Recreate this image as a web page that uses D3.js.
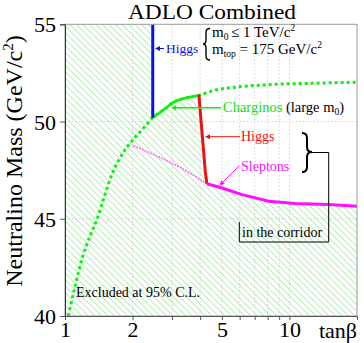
<!DOCTYPE html>
<html><head><meta charset="utf-8">
<script src="https://cdn.jsdelivr.net/npm/d3@7"></script>
<style>
html,body{margin:0;padding:0;background:#fff;}
svg{display:block;font-family:"Liberation Serif","Times New Roman",serif;}
</style></head>
<body>
<svg id="c" width="364" height="343"></svg>
<script>
// ---- data ----
const xTickValues = [1,2,3,4,5,6,7,8,9,10];
const xLabelValues = [1,2,5,10];
const yTickValues = [40,45,50,55];
const gridX = [2,3,4,5,6,7,8,9,10];
const gridY = [45,50];

const higgsBlueTb = [2.46,2.46];
const higgsBlueM  = [55,50.2];

const charginoSolidTb = [2.46,2.75,3.04,3.32,3.7,3.98];
const charginoSolidM  = [50.2,50.6,50.99,51.16,51.28,51.36];

const charginoDotTb = [1.034,1.203,1.389,1.636,1.758,1.889,2.051,2.234,2.46,2.75,3.04,3.32,3.98,4.68,5.5,6.59,8.0,9.27,11.0,13.05,16.0,20];
const charginoDotM  = [40,43.11,44.99,47.41,48.13,48.69,49.18,49.65,50.2,50.6,50.99,51.16,51.36,51.62,51.74,51.83,51.89,51.93,51.95,51.97,52.0,52.02];

const higgsRedTb = [3.95,4.08,4.22,4.29];
const higgsRedM  = [51.38,49.4,47.41,46.8];

const sleptonTb = [4.29,5.01,6.15,8.09,10.6,14.96,20];
const sleptonM  = [46.8,46.58,46.24,45.9,45.78,45.73,45.64];

const sleptonDotTb = [2.02,2.6,3.32,4.29];
const sleptonDotM  = [48.76,48.2,47.6,46.8];

// ---- layout ----
const svg = d3.select("#c");
const X0=65, X1=357, Y0=24.3, Y1=316;
const x = d3.scaleLog().domain([1,20]).range([X0,X1]);
const y = d3.scaleLinear().domain([40,55]).range([Y1,Y0]);
const serif = '"Liberation Serif","Times New Roman",serif';

const defs = svg.append("defs");
const pat = defs.append("pattern").attr("id","hatch").attr("patternUnits","userSpaceOnUse")
  .attr("width",6.5).attr("height",6.5);
pat.append("path").attr("d","M-1,-1 L7.5,7.5 M-1,5.5 L1,7.5 M5.5,-1 L7.5,1")
  .attr("stroke","#8fe38f").attr("stroke-width",0.9).attr("fill","none");
defs.append("clipPath").attr("id","plotclip").append("rect")
  .attr("x",X0).attr("y",Y0).attr("width",X1-X0).attr("height",Y1-Y0);

const zip = (a,b)=>a.map((v,i)=>[v,b[i]]);
const line = d3.line().x(d=>x(d[0])).y(d=>y(d[1]));
const smooth = d3.line().x(d=>x(d[0])).y(d=>y(d[1])).curve(d3.curveMonotoneX);

// hatched excluded region
const region = [[1,55],[higgsBlueTb[0],55]]
  .concat(zip(charginoSolidTb,charginoSolidM))
  .concat(zip(higgsRedTb,higgsRedM).slice(1))
  .concat(zip(sleptonTb,sleptonM).slice(1))
  .concat([[20,40],[1,40]]);
const g = svg.append("g").attr("clip-path","url(#plotclip)");
g.append("path").attr("d",line(region)+"Z").attr("fill","url(#hatch)");

// grid
g.selectAll(".gx").data(gridX).join("line")
  .attr("x1",d=>x(d)).attr("x2",d=>x(d)).attr("y1",Y0).attr("y2",Y1)
  .attr("stroke","#c8c8c8").attr("stroke-width",0.8).attr("stroke-dasharray","1.5,2");
g.selectAll(".gy").data(gridY).join("line")
  .attr("x1",X0).attr("x2",X1).attr("y1",d=>y(d)).attr("y2",d=>y(d))
  .attr("stroke","#c8c8c8").attr("stroke-width",0.8).attr("stroke-dasharray","1.5,2");

// curves
g.append("path").attr("d",line(zip(sleptonDotTb,sleptonDotM)))
  .attr("fill","none").attr("stroke","#ff66ff").attr("stroke-width",1.6).attr("stroke-dasharray","2,1");
g.append("path").attr("d",smooth(zip(charginoDotTb,charginoDotM)))
  .attr("fill","none").attr("stroke","#11ee11").attr("stroke-width",3).attr("stroke-dasharray","3,3");
g.append("path").attr("d",smooth(zip(charginoSolidTb,charginoSolidM)))
  .attr("fill","none").attr("stroke","#11ee11").attr("stroke-width",2.6);
g.append("path").attr("d",line(zip(higgsBlueTb,higgsBlueM)))
  .attr("fill","none").attr("stroke","#0a14e6").attr("stroke-width",3);
g.append("path").attr("d",line(zip(higgsRedTb,higgsRedM)))
  .attr("fill","none").attr("stroke","#ee1111").attr("stroke-width",3);
g.append("path").attr("d",line(zip(sleptonTb,sleptonM)))
  .attr("fill","none").attr("stroke","#ff11ff").attr("stroke-width",3);

// frame
svg.append("rect").attr("x",X0).attr("y",Y0).attr("width",X1-X0).attr("height",Y1-Y0)
  .attr("fill","none").attr("stroke","#9a9a9a").attr("stroke-width",1);

// axes
const xAxis = d3.axisBottom(x).tickValues(xTickValues).tickSize(4)
  .tickFormat(d=>xLabelValues.includes(d)?String(d):"");
const ax = svg.append("g").attr("transform",`translate(0,${Y1})`).call(xAxis);
ax.select(".domain").attr("stroke","#555");
ax.selectAll(".tick line").attr("stroke","#555");
ax.selectAll("text").attr("font-family",serif).attr("font-size",22).attr("fill","#000").attr("dy","0.72em").attr("y",5);

const yAxis = d3.axisLeft(y).tickValues(yTickValues).tickSize(5).tickFormat(d3.format("d"));
const ay = svg.append("g").attr("transform",`translate(${X0},0)`).call(yAxis);
ay.select(".domain").attr("stroke","#333");
ay.selectAll(".tick line").attr("stroke","#555");
ay.selectAll("text").attr("font-family",serif).attr("font-size",22).attr("fill","#000").attr("x",-9).attr("dy","0.34em");

// axis titles
svg.append("text").attr("x",357).attr("y",338).attr("text-anchor","end")
  .attr("font-size",22).text("tan\u03B2");
const yt = svg.append("text").attr("transform","translate(21.5,161) rotate(-90)")
  .attr("text-anchor","middle").attr("font-size",24);
yt.append("tspan").text("Neutralino Mass (GeV/c");
yt.append("tspan").attr("font-size",15).attr("dy",-9).text("2");
yt.append("tspan").attr("dy",9).text(")");

// title
svg.append("text").attr("x",212).attr("y",18.8).attr("text-anchor","middle")
  .attr("font-size",21).attr("textLength",168).attr("lengthAdjust","spacingAndGlyphs").text("ADLO Combined");

// annotations
function arrowHead(x0,y0,ang,col){ // ang: direction of the tip
  const L=5,W=2.5, c=Math.cos(ang), s=Math.sin(ang);
  const bx=x0-L*c, by=y0-L*s;
  svg.append("path").attr("d",`M${x0},${y0} L${bx- W*s},${by+W*c} L${bx+W*s},${by-W*c} Z`).attr("fill",col);
}
// blue higgs
svg.append("line").attr("x1",156).attr("x2",164).attr("y1",48.5).attr("y2",48.5).attr("stroke","#0a14e6").attr("stroke-width",1);
arrowHead(155,48.5,Math.PI,"#0a14e6");
svg.append("text").attr("x",166).attr("y",52.5).attr("font-size",13.5).attr("fill","#0a14e6").text("Higgs");

// brace and conditions
svg.append("path").attr("d","M210,28.5 Q206,28.5 206,32.5 L206,40 Q206,44 203,44 Q206,44 206,48 L206,56 Q206,60 210,60")
  .attr("fill","none").attr("stroke","#000").attr("stroke-width",1.4);
const l1 = svg.append("text").attr("x",212).attr("y",36.5).attr("font-size",15);
l1.append("tspan").text("m");
l1.append("tspan").attr("font-size",9.5).attr("dy",3).text("0");
l1.append("tspan").attr("x",231).attr("dy",-3).text("\u2264 1 TeV/c");
l1.append("tspan").attr("font-size",9.5).attr("dy",-6).text("2");
const l2 = svg.append("text").attr("x",212).attr("y",53.5).attr("font-size",15);
l2.append("tspan").text("m");
l2.append("tspan").attr("font-size",9.5).attr("dy",3).text("top");
l2.append("tspan").attr("dy",-3).text(" = 175 GeV/c");
l2.append("tspan").attr("font-size",9.5).attr("dy",-6).text("2");

// charginos
svg.append("line").attr("x1",174).attr("x2",221).attr("y1",107.7).attr("y2",107.7).attr("stroke","#11ee11").attr("stroke-width",1.5);
arrowHead(171,107.7,Math.PI,"#11ee11");
const ch = svg.append("text").attr("x",223).attr("y",111.5).attr("font-size",14.5);
ch.append("tspan").attr("fill","#11dd11").text("Charginos");
ch.append("tspan").attr("fill","#000").text(" (large m");
ch.append("tspan").attr("font-size",9.5).attr("dy",3).text("0");
ch.append("tspan").attr("dy",-3).text(")");

// red higgs
svg.append("line").attr("x1",208).attr("x2",240).attr("y1",136.7).attr("y2",136.7).attr("stroke","#ee1111").attr("stroke-width",1);
arrowHead(205,136.7,Math.PI,"#ee1111");
svg.append("text").attr("x",241).attr("y",141).attr("font-size",14).attr("fill","#ee1111").text("Higgs");

// sleptons
svg.append("line").attr("x1",239).attr("y1",166).attr("x2",222).attr("y2",183).attr("stroke","#ff11ff").attr("stroke-width",1);
arrowHead(219.5,185.5,Math.atan2(19.5,-19.5),"#ff11ff");
svg.append("text").attr("x",241).attr("y",171).attr("font-size",14).attr("fill","#ff11ff").text("Sleptons");

// right brace and corridor box
svg.append("path").attr("d","M302,133 Q307,133 307,138 L307,147 Q307,152 312,152 Q307,152 307,157 L307,167 Q307,172 302,172")
  .attr("fill","none").attr("stroke","#000").attr("stroke-width",2);
svg.append("path").attr("d","M312,152.5 L328.7,152.5 L328.7,242 L239.3,242 L239.3,222")
  .attr("fill","none").attr("stroke","#000").attr("stroke-width",1);
svg.append("text").attr("x",242).attr("y",237).attr("font-size",14).text("in the corridor");

svg.append("text").attr("x",76).attr("y",297).attr("font-size",14).text("Excluded at 95% C.L.");
</script>
</body></html>
